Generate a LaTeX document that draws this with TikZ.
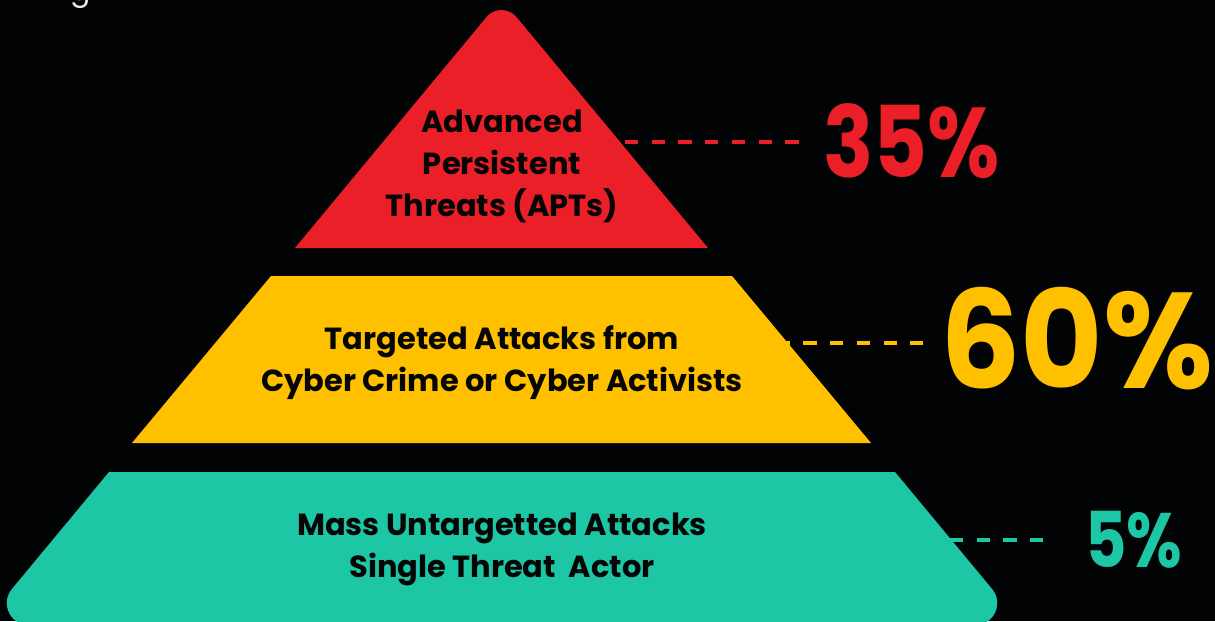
\documentclass[tikz,border=0pt]{standalone}
\usepackage{fontspec}
\setmainfont{Poppins}
\definecolor{bg}{HTML}{020305}
\definecolor{apt}{HTML}{EB1F27}
\definecolor{tgt}{HTML}{FFC000}
\definecolor{mass}{HTML}{1DC6A4}
\definecolor{ink}{HTML}{050505}
\definecolor{faint}{HTML}{E8E8E8}
\newcommand{\narrow}[2]{\scalebox{#1}[1]{#2}}
\begin{document}
\begin{tikzpicture}[x=1pt,y=-1pt,
  tierlabel/.style={font=\bfseries\fontsize{30.5}{42}\selectfont, text=ink, align=center, inner sep=0pt},
  leader/.style={line width=4.7pt, dash pattern=on 13.3pt off 13.4pt},
  pct/.style={anchor=base west, inner sep=0pt}]
\useasboundingbox (0,0) rectangle (1215,621);
\clip (0,0) rectangle (1215,621);
\fill[bg] (0,0) rectangle (1215,621);

% stray heading glyph cut by the top edge
\node[text=faint, font=\fontsize{30}{30}\selectfont, anchor=base west, inner sep=0pt] (head) at (70,0.5) {g};

% top tier: triangle with a rounded apex
\fill[apt] (295,248) -- (486.5,17.1) .. controls (494.3,7.7) and (508.7,7.7) .. (516.5,17.1) -- (708,248) -- cycle;
% middle tier
\fill[tgt] (271,276) -- (732,276) -- (871,443) -- (132,443) -- cycle;
% bottom tier with rounded lower corners
\fill[mass] (109,472) -- (895,472) -- (992,588.9) .. controls (1004.1,603.4) and (993.9,625) .. (975,625)
  -- (29,625) .. controls (10.1,625) and (-0.1,603.4) .. (12,588.9) -- cycle;

% tier labels
\node[tierlabel] (lapt) at (502,166) {Advanced\\Persistent\\Threats (APTs)};
\node[tierlabel] (ltgt) at (502,363) {Targeted Attacks from\\Cyber Crime or Cyber Activists};
\node[tierlabel] (lmass) at (502,549) {Mass Untargetted Attacks\\Single Threat\ \ Actor};

% percentages
\node[pct, text=apt, font=\bfseries\fontsize{99}{99}\selectfont] (papt) at (823,177) {\narrow{0.84}{35\%}};
\node[pct, text=tgt, font=\bfseries\fontsize{136}{136}\selectfont] (ptgt) at (940,388) {\narrow{0.93}{60\%}};
\node[pct, text=mass, font=\bfseries\fontsize{77}{77}\selectfont] (pmass) at (1085,567) {\narrow{0.83}{5\%}};

% dashed leaders
\coordinate (a1) at (625,142);  \coordinate (a2) at (799,142);
\coordinate (b1) at (776.7,343); \coordinate (b2) at (923,343);
\coordinate (c1) at (950,540);  \coordinate (c2) at (1043,540);
\draw[leader, apt] (a1) -- (a2);
\draw[leader, tgt] (b1) -- (b2);
\draw[leader, mass] (c1) -- (c2);
\end{tikzpicture}
\end{document}
